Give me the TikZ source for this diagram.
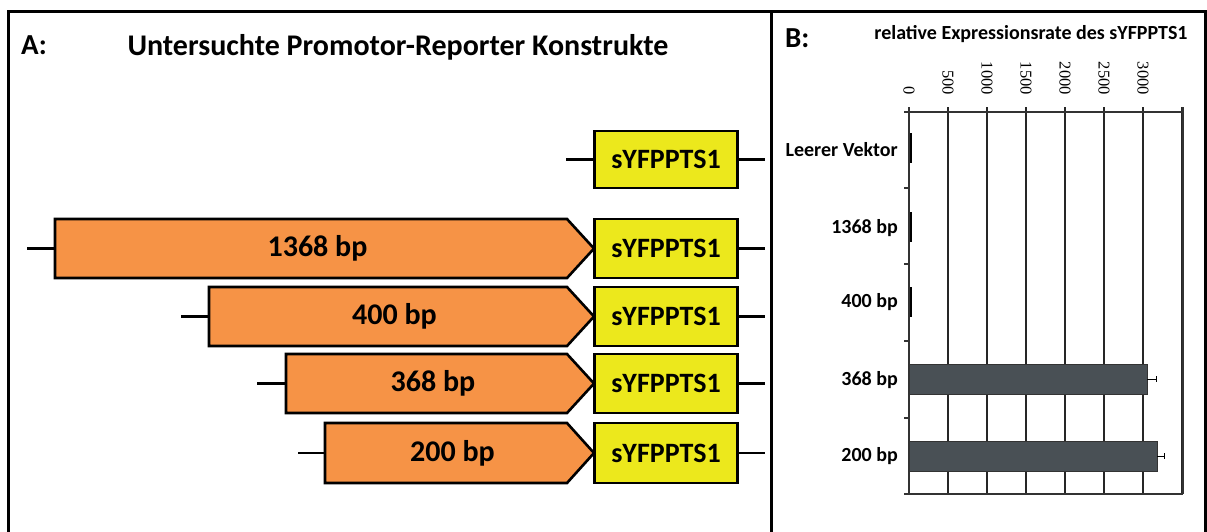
\documentclass[tikz,border=0pt]{standalone}
\usepackage{fontspec}
\setmainfont{Carlito}
\newfontfamily\ticksfont{Liberation Serif}
\definecolor{promo}{RGB}{246,147,70}
\definecolor{reporter}{RGB}{236,232,28}
\definecolor{barfill}{RGB}{73,80,85}
\begin{document}
\begin{tikzpicture}[x=1pt,y=-1pt,
  frame/.style={line width=3pt,black},
  outline/.style={line width=2.6pt,black,line join=miter},
  stub/.style={line width=2.6pt,black},
  bigtxt/.style={font=\bfseries\fontsize{30}{32}\selectfont,inner sep=0pt},
  reptxt/.style={font=\bfseries\fontsize{28}{30}\selectfont},
  cattxt/.style={font=\bfseries\fontsize{20}{22}\selectfont,anchor=east,inner sep=0pt},
  ticktxt/.style={font=\ticksfont\fontsize{16.5}{18}\selectfont,rotate=-90,anchor=east,inner sep=0pt},
  grid/.style={line width=1.2pt,black!85},
  axis/.style={line width=1.4pt,black!80},
  bar/.style={fill=barfill,draw=black!80,line width=0.8pt}]
\useasboundingbox (0,0) rectangle (1207,531);
% frame
\draw[frame] (8,535) -- (8,11) -- (1205,11) -- (1205,535);
\draw[frame] (771,11) -- (771,535);
% panel A
\node[font=\bfseries\fontsize{29}{31}\selectfont,anchor=west,inner sep=0pt] (labA) at (21,45) {A:};
\node[font=\bfseries\fontsize{30}{32}\selectfont,inner sep=0pt] (titleA) at (398,47) {Untersuchte Promotor-Reporter Konstrukte};
% reporter boxes
\foreach \n/\t/\b in {0/131/188,1/219/278,2/287/346,3/354/413,4/423/483}{
  \node[draw,outline,fill=reporter,minimum width=143pt,minimum height={\b-\t},inner sep=0pt,reptxt] (rep\n) at (666,{(\t+\b)/2}) {sYFPPTS1};
  \coordinate (re\n) at (765,{(\t+\b)/2});
  \draw[stub] (rep\n.east) -- (re\n);
}
\coordinate (le0) at (566,159.5);
\draw[stub] (le0) -- (rep0.west);
% promoters
\foreach \n/\t/\b/\l/\s/\txt in {1/219/278/55/27/1368 bp,2/287/346/209/181/400 bp,3/354/413/286/257/368 bp,4/423/483/325/298/200 bp}{
  \draw[outline,fill=promo] (\l,\t) -- (567,\t) -- (594,{(\t+\b)/2}) -- (567,\b) -- (\l,\b) -- cycle;
  \node[bigtxt] (pro\n) at ({(\l+580)/2},{(\t+\b)/2}) {\txt};
  \coordinate (pw\n) at (\l,{(\t+\b)/2});
  \coordinate (le\n) at (\s,{(\t+\b)/2});
  \draw[stub] (le\n) -- (pw\n);
}
% panel B
\node[font=\bfseries\fontsize{29}{31}\selectfont,anchor=west,inner sep=0pt] (labB) at (785,38) {B:};
\node[font=\bfseries\fontsize{20}{22}\selectfont,inner sep=0pt] (titleB) at (1031,34) {relative Expressionsrate des sYFPPTS1};
% grid
\foreach \i in {1,...,7}{
  \draw[grid] ({909+39*\i},107) -- ({909+39*\i},494);
}
\foreach \i/\v in {0/0,1/500,2/1000,3/1500,4/2000,5/2500,6/3000}{
  \node[ticktxt] (tk\i) at ({909+39*\i},95) {\v};
}
% bars (drawn over grid)
\fill[white] (910,364) rectangle (1147,394);
\fill[white] (910,441) rectangle (1157,471);
\draw[bar] (909,364) rectangle (1147,394);
\draw[bar] (909,441) rectangle (1157,471);
\draw[line width=1pt] (1147,379) -- (1156,379) (1156,376) -- (1156,382);
\draw[line width=1pt] (1157,456) -- (1164,456) (1164,453) -- (1164,459);
\fill[black] (909,133) rectangle (911.5,163);
\fill[black] (909,212) rectangle (911.5,242);
\fill[black] (909,287) rectangle (911.5,317);
% axes
\draw[axis] (904,112) -- (1183,112);
\draw[axis] (909,107) -- (909,494);
\draw[axis] (904,494) -- (1183,494);
\draw[axis] (1183,107) -- (1183,494);
\foreach \y in {188,264,341,418}{\draw[axis] (904,\y) -- (909,\y);}
% categories
\node[cattxt] (c0) at (898,150) {Leerer Vektor};
\node[cattxt] (c1) at (898,228) {1368 bp};
\node[cattxt] (c2) at (898,302) {400 bp};
\node[cattxt] (c3) at (898,380) {368 bp};
\node[cattxt] (c4) at (898,456) {200 bp};
\end{tikzpicture}
\end{document}
